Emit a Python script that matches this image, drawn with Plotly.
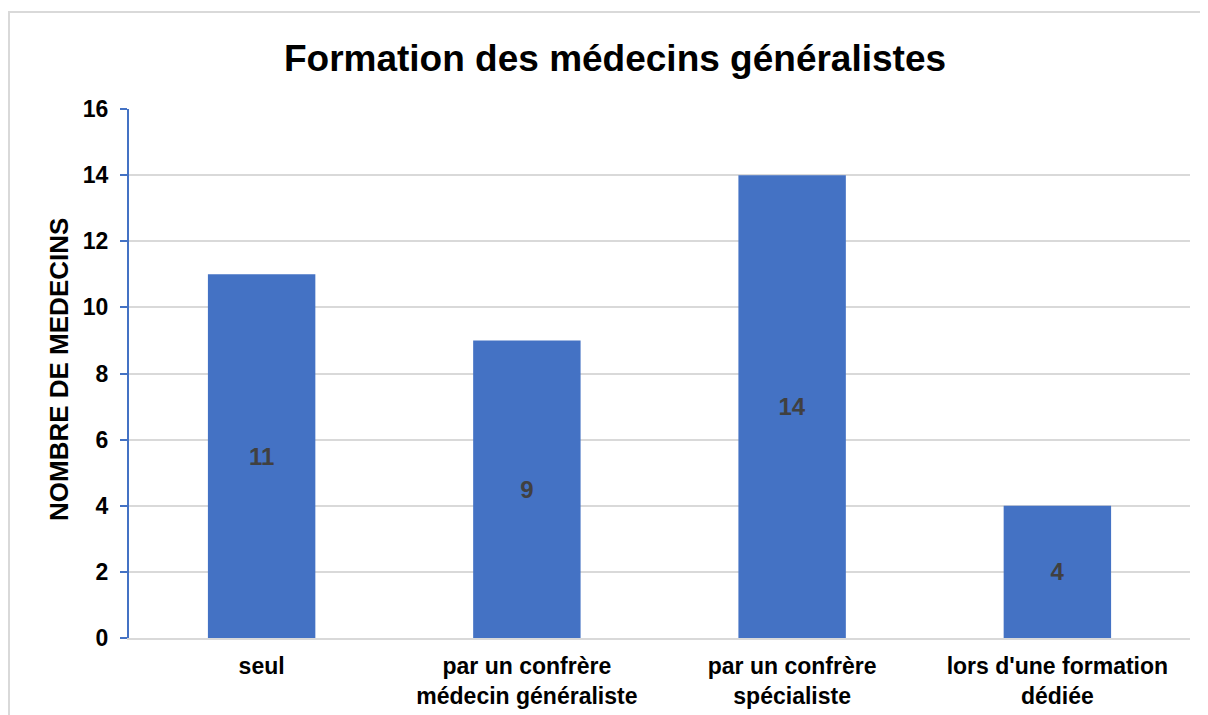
import plotly.graph_objects as go

categories = ["seul", "par un confrère<br>médecin généraliste", "par un confrère<br>spécialiste", "lors d'une formation<br>dédiée"]
values = [11, 9, 14, 4]
y_ticks = [0, 2, 4, 6, 8, 10, 12, 14, 16]

# page body has an 8px margin: figure origin sits at (8, 8) in the window
OFF = 8
W, H = 1200, 707
L, R, T, B = 121, 18, 101, 77
pw, ph = W - L - R, H - T - B

fig = go.Figure(go.Bar(
    x=categories, y=values,
    marker=dict(color="#4472c4", line=dict(width=0)),
    text=[str(v) for v in values], textposition="inside", insidetextanchor="middle",
    textfont=dict(family="Liberation Sans", size=24, color="#404040", weight="bold"),
    textangle=0,
))

fig.update_layout(
    width=W, height=H,
    margin=dict(l=L, r=R, t=T, b=B, autoexpand=False),
    paper_bgcolor="white", plot_bgcolor="white",
    bargap=0.595,
    showlegend=False,
    font=dict(family="Liberation Sans", color="black"),
    title=dict(text="<b>Formation des médecins généralistes</b>", x=(615 - OFF) / W, xanchor="center",
               y=1 - (58 - OFF) / H, yanchor="middle", font=dict(size=37, color="black")),
    xaxis=dict(showgrid=False, showline=True, linecolor="#d9d9d9", linewidth=2,
               tickfont=dict(size=23, weight="bold"), ticks="", fixedrange=True,
               ticklabelstandoff=6),
    yaxis=dict(range=[0, 16], tickvals=y_ticks, showgrid=True, gridcolor="#d9d9d9", gridwidth=2,
               zeroline=False, showline=True, linecolor="#4472c4", linewidth=2,
               ticks="outside", ticklen=7, tickcolor="#4472c4", tickwidth=2,
               ticklabelstandoff=7,
               tickfont=dict(size=23, weight="bold")),
    annotations=[dict(text="<b>NOMBRE DE MEDECINS</b>", textangle=-90, showarrow=False,
                      xref="paper", yref="paper", x=(59 - OFF - L) / pw, y=(H - B - (370 - OFF)) / ph,
                      xanchor="center", yanchor="middle", font=dict(size=26, color="black"))],
    shapes=[dict(type="rect", xref="paper", yref="paper",
                 x0=(9 - OFF - L) / pw, x1=(1300 - OFF - L) / pw,
                 y0=(H - B - 800) / ph, y1=(H - B - (12 - OFF)) / ph,
                 line=dict(color="#d9d9d9", width=2), layer="below")],
)

fig.write_html("out.html")
